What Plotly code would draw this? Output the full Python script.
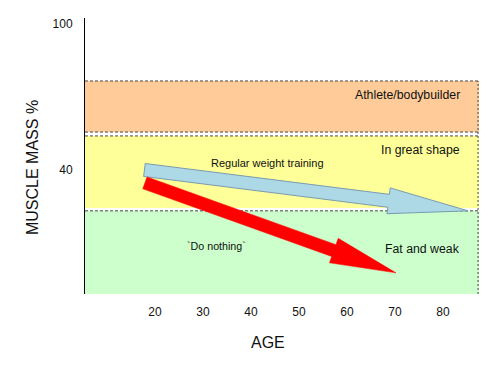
import plotly.graph_objects as go
import math

# ---- data ----
band_names = ["Fat and weak", "In great shape", "Athlete/bodybuilder"]
band_low = [-11.0, 24.4, 55.6]
band_high = [23.2, 54.0, 76.6]
band_colors = ["#CCFFCC", "#FFFF99", "#FFCC99"]
band_label_y = [7.5, 48.2, 70.8]

arrow_names = ["Regular weight training", "`Do nothing`"]
arrow_start_age = [17.8, 17.9]
arrow_start_mass = [40.0, 34.7]
arrow_end_age = [85.2, 70.2]
arrow_end_mass = [23.2, -2.3]
arrow_label_age = [43.5, 32.9]
arrow_label_mass = [42.9, 8.8]

x_ticks = [20, 30, 40, 50, 60, 70, 80]
y_ticks = [40, 100]

X_RANGE = [5.42, 87.5]
Y_RANGE = [-11.0, 102.5]

# ---- layout geometry (page body has an 8px offset) ----
OFF = 8
W, H = 500 - OFF, 375 - OFF
L, R, T, B = 85 - OFF, 21, 18 - OFF, 81
PW, PH = W - L - R, H - T - B

def to_px(a, m):
    return (L + (a - X_RANGE[0]) / (X_RANGE[1] - X_RANGE[0]) * PW,
            T + PH - (m - Y_RANGE[0]) / (Y_RANGE[1] - Y_RANGE[0]) * PH)

def to_data(px, py):
    return (X_RANGE[0] + (px - L) / PW * (X_RANGE[1] - X_RANGE[0]),
            Y_RANGE[0] + (T + PH - py) / PH * (Y_RANGE[1] - Y_RANGE[0]))

def arrow_polygon(a0, m0, a1, m1, w, hw, hl):
    x0, y0 = to_px(a0, m0)
    x1, y1 = to_px(a1, m1)
    dx, dy = x1 - x0, y1 - y0
    ln = math.hypot(dx, dy)
    ux, uy = dx / ln, dy / ln
    nx, ny = -uy, ux
    bx, by = x1 - ux * hl, y1 - uy * hl
    pts = [
        (x0 + nx * w, y0 + ny * w),
        (bx + nx * w, by + ny * w),
        (bx + nx * hw, by + ny * hw),
        (x1, y1),
        (bx - nx * hw, by - ny * hw),
        (bx - nx * w, by - ny * w),
        (x0 - nx * w, y0 - ny * w),
        (x0 + nx * w, y0 + ny * w),
    ]
    d = [to_data(px, py) for px, py in pts]
    return [p[0] for p in d], [p[1] for p in d]

fig = go.Figure()

shapes = []
for lo, hi, col in zip(band_low, band_high, band_colors):
    shapes.append(dict(type="rect", xref="x", yref="y", x0=X_RANGE[0], x1=X_RANGE[1],
                       y0=lo, y1=hi, fillcolor=col, line=dict(width=0), layer="below"))
# dashed band borders
for yv in [band_high[2], band_low[2], band_high[1], band_high[0]]:
    shapes.append(dict(type="line", xref="x", yref="y", x0=X_RANGE[0], x1=X_RANGE[1],
                       y0=yv, y1=yv, line=dict(color="#444444", width=1, dash="3px,2px"),
                       layer="below"))
shapes.append(dict(type="line", xref="x", yref="y", x0=X_RANGE[1] - 0.2, x1=X_RANGE[1] - 0.2,
                   y0=band_low[0], y1=band_high[2],
                   line=dict(color="#444444", width=1, dash="2px,2px"), layer="below"))

# arrows
ax, ay = arrow_polygon(arrow_start_age[0], arrow_start_mass[0], arrow_end_age[0], arrow_end_mass[0], 6.5, 13, 80)
fig.add_trace(go.Scatter(x=ax, y=ay, mode="lines", fill="toself", fillcolor="#ADD8E6",
                         line=dict(color="#7A9CB0", width=1), hoverinfo="skip", showlegend=False))
rx, ry = arrow_polygon(arrow_start_age[1], arrow_start_mass[1], arrow_end_age[1], arrow_end_mass[1], 6.3, 13, 66)
fig.add_trace(go.Scatter(x=rx, y=ry, mode="lines", fill="toself", fillcolor="#FF0000",
                         line=dict(color="#FF0000", width=0.5), hoverinfo="skip", showlegend=False))

FONT = "Liberation Sans, Arial"
annotations = []
for name, yv in zip(band_names, band_label_y):
    annotations.append(dict(x=84.0, y=yv, xref="x", yref="y", text=name, showarrow=False,
                            xanchor="right", yanchor="middle",
                            font=dict(family=FONT, size=12.3, color="#111111")))
annotations.append(dict(x=arrow_label_age[0], y=arrow_label_mass[0], xref="x", yref="y",
                        text=arrow_names[0], showarrow=False, xanchor="center", yanchor="middle",
                        font=dict(family=FONT, size=11, color="#111111")))
annotations.append(dict(x=arrow_label_age[1], y=arrow_label_mass[1], xref="x", yref="y",
                        text=arrow_names[1], showarrow=False, xanchor="center", yanchor="middle",
                        font=dict(family=FONT, size=10.7, color="#111111")))
# axis titles
annotations.append(dict(x=-0.1345, y=0.4565, xref="paper", yref="paper", text="MUSCLE MASS %",
                        textangle=-90, showarrow=False, xanchor="center", yanchor="middle",
                        font=dict(family=FONT, size=16, color="#111111")))
annotations.append(dict(x=0.4645, y=-0.1775, xref="paper", yref="paper", text="AGE",
                        showarrow=False, xanchor="center", yanchor="middle",
                        font=dict(family=FONT, size=16, color="#111111")))

fig.update_layout(
    width=W, height=H,
    margin=dict(l=L, r=R, t=T, b=B),
    paper_bgcolor="white", plot_bgcolor="white",
    shapes=shapes, annotations=annotations,
    showlegend=False,
    font=dict(family=FONT, color="#111111"),
    xaxis=dict(range=X_RANGE, tickvals=x_ticks, ticktext=[str(v) for v in x_ticks],
               showgrid=False, zeroline=False, showline=False, ticks="", automargin=False,
               ticklabelstandoff=9, tickfont=dict(size=12)),
    yaxis=dict(range=Y_RANGE, tickvals=y_ticks, ticktext=[str(v) for v in y_ticks],
               showgrid=False, zeroline=False, showline=True, linecolor="black", linewidth=1,
               ticks="", automargin=False, ticklabelstandoff=9, tickfont=dict(size=12)),
)

fig.write_html("out.html")
